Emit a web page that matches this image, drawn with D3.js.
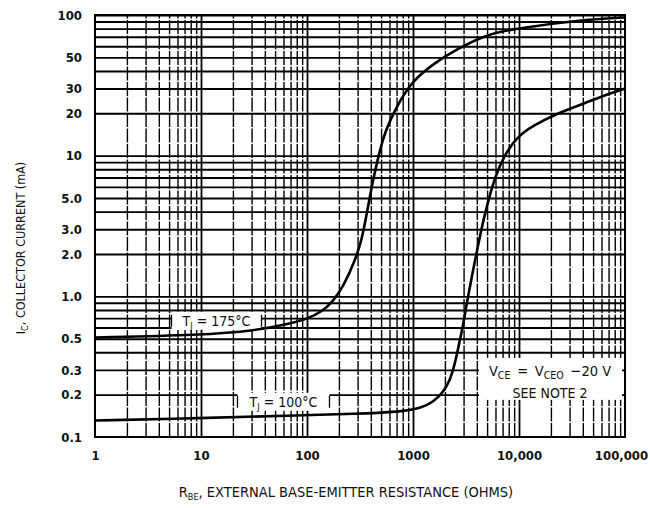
<!DOCTYPE html>
<html>
  <head>
    <meta charset="utf-8" />
    <title>Collector current vs external base-emitter resistance</title>
    <script src="https://cdn.jsdelivr.net/npm/d3@7"></script>
    <style>
      body {
        margin: 0;
        background: #fff;
      }
      svg {
        display: block;
      }
      svg text {
        font-family: "DejaVu Sans Condensed", "Liberation Sans Narrow", sans-serif;
      }
      .grid line {
        stroke: #000;
      }
      .grid path {
        display: none;
      }
      .ticks path {
        display: none;
      }
      .ticks text {
        font-size: 13px;
        font-weight: bold;
        fill: #111;
      }
    </style>
  </head>

  <body>
    <svg id="chart"></svg>
    <script>
      const width = 650;
      const height = 508;

      // curve data (ohms, mA)
      const rbe175 = [1, 10, 33, 69, 100, 143, 177, 220, 284, 328, 366, 407, 454, 525, 607, 754, 1006, 1555, 2580, 4950, 10000, 50000, 100000];
      const ic175 = [0.51, 0.53, 0.57, 0.64, 0.69, 0.79, 0.93, 1.17, 1.8, 2.5, 3.87, 5.98, 8.77, 13.6, 17.8, 24.7, 34.3, 45, 57, 73, 81, 94, 96];

      const rbe100 = [1, 10, 69, 300, 754, 1164, 1555, 1933, 2234, 2490, 2680, 2990, 3210, 3580, 4140, 4610, 5140, 5940, 7120, 9510, 13650, 22650, 40400, 77600, 100000];
      const ic100 = [0.131, 0.136, 0.142, 0.146, 0.151, 0.159, 0.177, 0.209, 0.253, 0.333, 0.436, 0.64, 0.887, 1.37, 2.37, 3.47, 4.81, 7.04, 9.77, 13.6, 16.4, 19.9, 23.4, 28.3, 30];

      const xTicks = [1, 10, 100, 1000, 10000, 100000];
      const xTickLabels = ["1", "10", "100", "1000", "10,000", "100,000"];
      const yTicks = [0.1, 0.2, 0.3, 0.5, 1, 2, 3, 5, 10, 20, 30, 50, 100];
      const yTickLabels = ["0.1", "0.2", "0.3", "0.5", "1.0", "2.0", "3.0", "5.0", "10", "20", "30", "50", "100"];

      const margin = { left: 95, right: 25, top: 15, bottom: 71 };
      const innerW = width - margin.left - margin.right;
      const innerH = height - margin.top - margin.bottom;

      const svg = d3.select("#chart").attr("width", width).attr("height", height);
      const g = svg.append("g").attr("transform", `translate(${margin.left},${margin.top})`);

      const x = d3.scaleLog().domain([1, 100000]).range([0, innerW]);
      const y = d3.scaleLog().domain([0.1, 100]).range([innerH, 0]);

      // minor grid values for every decade
      const xGridVals = [];
      for (let d = 1; d < 100000; d *= 10) {
        for (let k = 2; k <= 9; k++) xGridVals.push(d * k);
      }
      const yGridVals = [];
      for (let d = 0.1; d < 99; d *= 10) {
        for (let k = 2; k <= 10; k++) yGridVals.push(+(d * k).toPrecision(3));
      }

      // vertical grid (thinner, broken look)
      g.append("g")
        .attr("class", "grid")
        .attr("transform", `translate(0,${innerH})`)
        .call(d3.axisBottom(x).tickValues(xGridVals.concat([10, 100, 1000, 10000])).tickSize(-innerH).tickFormat(""))
        .selectAll("line")
        .attr("stroke-width", (d) => (xTicks.includes(d) ? 1.8 : 1.4))
        .attr("stroke-dasharray", (d) => (xTicks.includes(d) ? null : "14,1.5"));

      // horizontal grid (bold)
      g.append("g")
        .attr("class", "grid")
        .call(d3.axisLeft(y).tickValues(yGridVals).tickSize(-innerW).tickFormat(""))
        .selectAll("line")
        .attr("stroke-width", 1.9);

      // curve labels on white boxes
      function boxLabel(cx, cy, w, h, draw) {
        const lg = g.append("g").attr("transform", `translate(${cx},${cy})`);
        lg.append("rect")
          .attr("x", -w / 2)
          .attr("y", -h / 2)
          .attr("width", w)
          .attr("height", h)
          .attr("fill", "#fff");
        lg.append("line")
          .attr("x1", -w / 2).attr("x2", -w / 2)
          .attr("y1", -6).attr("y2", 6)
          .attr("stroke", "#000").attr("stroke-width", 1.3);
        lg.append("line")
          .attr("x1", w / 2).attr("x2", w / 2)
          .attr("y1", -6).attr("y2", 6)
          .attr("stroke", "#000").attr("stroke-width", 1.3);
        const t = lg.append("text")
          .attr("text-anchor", "middle")
          .attr("dy", "0.35em")
          .attr("font-size", 14)
          .attr("fill", "#111");
        draw(t);
        return lg;
      }

      boxLabel(x(14), y(0.67), 90, 18, (t) => {
        t.append("tspan").text("T");
        t.append("tspan").attr("font-size", 9).attr("dy", 3).text("J");
        t.append("tspan").attr("dy", -3).text(" = 175°C");
      });

      boxLabel(x(60), y(0.178), 92, 18, (t) => {
        t.append("tspan").text("T");
        t.append("tspan").attr("font-size", 9).attr("dy", 3).text("J");
        t.append("tspan").attr("dy", -3).text(" = 100°C");
      });

      // test conditions note
      const noteX = x(100000) - 75;
      const note = g.append("g");
      note.append("rect")
        .attr("x", x(100000) - 146)
        .attr("y", y(0.3) - 12)
        .attr("width", 143)
        .attr("height", 42)
        .attr("fill", "#fff");
      const nt = note.append("text")
        .attr("x", noteX)
        .attr("y", y(0.3) + 6)
        .attr("text-anchor", "middle")
        .attr("font-size", 14.5)
        .attr("fill", "#111");
      nt.append("tspan").text("V");
      nt.append("tspan").attr("font-size", 10.5).attr("dy", 3).text("CE");
      nt.append("tspan").attr("dy", -3).text(" \u2009=\u2009 V");
      nt.append("tspan").attr("font-size", 10.5).attr("dy", 3).text("CEO");
      nt.append("tspan").attr("dy", -3).text(" \u2009\u221220 V");
      note.append("text")
        .attr("x", noteX)
        .attr("y", y(0.3) + 28)
        .attr("text-anchor", "middle")
        .attr("font-size", 14)
        .attr("fill", "#111")
        .text("SEE NOTE 2");

      // frame
      g.append("rect")
        .attr("width", innerW)
        .attr("height", innerH)
        .attr("fill", "none")
        .attr("stroke", "#000")
        .attr("stroke-width", 2);

      // curves
      const line = d3
        .line()
        .x((d) => x(d[0]))
        .y((d) => y(d[1]))
        .curve(d3.curveBasis);

      g.append("path")
        .datum(d3.zip(rbe175, ic175))
        .attr("fill", "none")
        .attr("stroke", "#000")
        .attr("stroke-width", 2.6)
        .attr("d", line);

      g.append("path")
        .datum(d3.zip(rbe100, ic100))
        .attr("fill", "none")
        .attr("stroke", "#000")
        .attr("stroke-width", 2.6)
        .attr("d", line);

      // tick labels
      g.append("g")
        .attr("class", "ticks")
        .call(d3.axisLeft(y).tickValues(yTicks).tickFormat((d, i) => yTickLabels[i]).tickSize(0).tickPadding(13));

      g.append("g")
        .attr("class", "ticks")
        .attr("transform", `translate(0,${innerH})`)
        .call(d3.axisBottom(x).tickValues(xTicks).tickFormat((d, i) => xTickLabels[i]).tickSize(0).tickPadding(14))
        .selectAll("text")
        .attr("dx", (d) => (d === 100000 ? -4 : 0));

      // axis titles
      const xt = svg.append("text")
        .attr("x", margin.left + innerW / 2 - 14)
        .attr("y", 497)
        .attr("text-anchor", "middle")
        .attr("font-size", 14.5)
        .attr("fill", "#111");
      xt.append("tspan").text("R");
      xt.append("tspan").attr("font-size", 9).attr("dy", 3).text("BE");
      xt.append("tspan").attr("dy", -3).text(", EXTERNAL BASE-EMITTER RESISTANCE (OHMS)");

      const yt = svg.append("text")
        .attr("transform", `translate(25,${margin.top + 233}) rotate(-90)`)
        .attr("text-anchor", "middle")
        .attr("font-size", 12.5)
        .attr("fill", "#111");
      yt.append("tspan").text("I");
      yt.append("tspan").attr("font-size", 9).attr("dy", 3).text("C");
      yt.append("tspan").attr("dy", -3).text(", COLLECTOR CURRENT (mA)");
    </script>
  </body>
</html>
